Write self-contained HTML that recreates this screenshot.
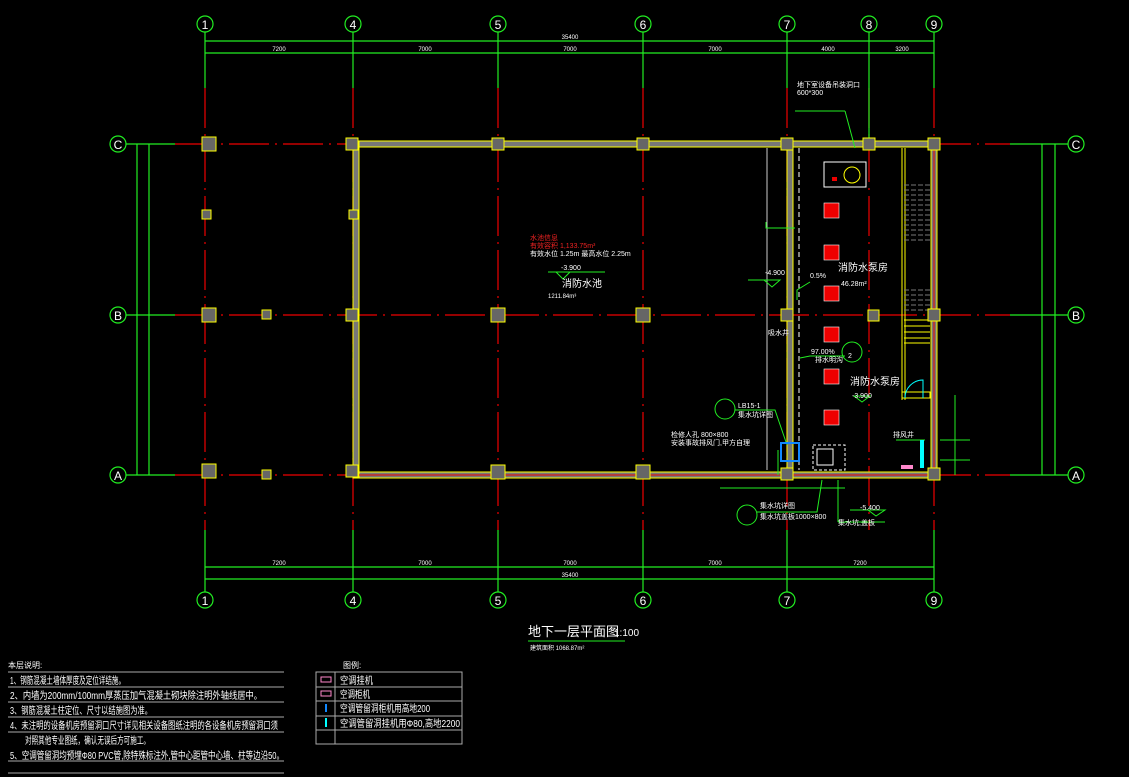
<!DOCTYPE html>
<html><head><meta charset="utf-8"><style>
html,body{margin:0;padding:0;background:#000;}
svg{display:block}
text{font-family:"Liberation Sans","Noto Sans CJK SC",sans-serif;fill:#fff}
</style></head><body>
<svg width="1129" height="777" viewBox="0 0 1129 777" xmlns="http://www.w3.org/2000/svg">
<rect width="1129" height="777" fill="#000"/>
<g stroke="#e00" stroke-width="1.2" stroke-dasharray="40,6,2,6">
<line x1="205" y1="88" x2="205" y2="530"/><line x1="353" y1="88" x2="353" y2="530"/>
<line x1="498" y1="88" x2="498" y2="530"/><line x1="643" y1="88" x2="643" y2="530"/>
<line x1="787" y1="88" x2="787" y2="530"/><line x1="869" y1="88" x2="869" y2="530"/>
<line x1="934" y1="88" x2="934" y2="530"/>
<line x1="175" y1="144" x2="1010" y2="144"/><line x1="175" y1="315" x2="1010" y2="315"/>
<line x1="175" y1="475" x2="1010" y2="475"/>
</g>
<g stroke="#2e2" stroke-width="1.2" fill="none">
<line x1="205" y1="32" x2="205" y2="88"/><line x1="353" y1="32" x2="353" y2="88"/>
<line x1="498" y1="32" x2="498" y2="88"/><line x1="643" y1="32" x2="643" y2="88"/>
<line x1="787" y1="32" x2="787" y2="88"/><line x1="869" y1="32" x2="869" y2="140"/>
<line x1="934" y1="32" x2="934" y2="88"/>
<line x1="205" y1="530" x2="205" y2="592"/><line x1="353" y1="530" x2="353" y2="592"/>
<line x1="498" y1="530" x2="498" y2="592"/><line x1="643" y1="530" x2="643" y2="592"/>
<line x1="787" y1="530" x2="787" y2="592"/><line x1="934" y1="530" x2="934" y2="592"/>
<line x1="205" y1="41" x2="934" y2="41"/><line x1="205" y1="53" x2="934" y2="53"/>
<line x1="205" y1="567" x2="934" y2="567"/><line x1="205" y1="579" x2="934" y2="579"/>
<line x1="126" y1="144" x2="175" y2="144"/><line x1="126" y1="315" x2="175" y2="315"/><line x1="126" y1="475" x2="175" y2="475"/>
<line x1="137" y1="144" x2="137" y2="475"/><line x1="149" y1="144" x2="149" y2="475"/>
<line x1="1010" y1="144" x2="1068" y2="144"/><line x1="1010" y1="315" x2="1068" y2="315"/><line x1="1010" y1="475" x2="1068" y2="475"/>
<line x1="1042" y1="144" x2="1042" y2="475"/><line x1="1055" y1="144" x2="1055" y2="475"/>
<circle cx="205" cy="24" r="8"/><circle cx="353" cy="24" r="8"/><circle cx="498" cy="24" r="8"/>
<circle cx="643" cy="24" r="8"/><circle cx="787" cy="24" r="8"/><circle cx="869" cy="24" r="8"/><circle cx="934" cy="24" r="8"/>
<circle cx="205" cy="600" r="8"/><circle cx="353" cy="600" r="8"/><circle cx="498" cy="600" r="8"/>
<circle cx="643" cy="600" r="8"/><circle cx="787" cy="600" r="8"/><circle cx="934" cy="600" r="8"/>
<circle cx="118" cy="144" r="8"/><circle cx="118" cy="315" r="8"/><circle cx="118" cy="475" r="8"/>
<circle cx="1076" cy="144" r="8"/><circle cx="1076" cy="315" r="8"/><circle cx="1076" cy="475" r="8"/>
</g>
<g font-size="12" text-anchor="middle">
<text x="205" y="29">1</text><text x="353" y="29">4</text><text x="498" y="29">5</text><text x="643" y="29">6</text><text x="787" y="29">7</text><text x="869" y="29">8</text><text x="934" y="29">9</text>
<text x="205" y="605">1</text><text x="353" y="605">4</text><text x="498" y="605">5</text><text x="643" y="605">6</text><text x="787" y="605">7</text><text x="934" y="605">9</text>
<text x="118" y="149">C</text><text x="118" y="320">B</text><text x="118" y="480">A</text>
<text x="1076" y="149">C</text><text x="1076" y="320">B</text><text x="1076" y="480">A</text>
</g>
<g font-size="6" text-anchor="middle">
<text x="570" y="39">35400</text><text x="279" y="51">7200</text><text x="425" y="51">7000</text><text x="570" y="51">7000</text><text x="715" y="51">7000</text><text x="828" y="51">4000</text><text x="902" y="51">3200</text>
<text x="279" y="565">7200</text><text x="425" y="565">7000</text><text x="570" y="565">7000</text><text x="715" y="565">7000</text><text x="860" y="565">7200</text><text x="570" y="577">35400</text>
</g>
<g fill="#777" stroke="#ff0" stroke-width="1">
<rect x="353" y="141" width="581" height="6"/>
<rect x="353" y="472" width="581" height="6"/>
<rect x="353" y="141" width="6" height="337"/>
<rect x="931" y="141" width="6" height="337"/>
<rect x="787" y="141" width="6" height="337"/>
</g>
<line x1="359" y1="475" x2="931" y2="475" stroke="#e00" stroke-width="1"/>
<line x1="934" y1="147" x2="934" y2="472" stroke="#e00" stroke-width="1"/>
<line x1="799" y1="148" x2="799" y2="470" stroke="#fff" stroke-width="1" stroke-dasharray="5,3"/>
<line x1="767" y1="148" x2="767" y2="470" stroke="#fff" stroke-width="0.8"/>
<line x1="902" y1="148" x2="902" y2="400" stroke="#ff0" stroke-width="1"/>
<line x1="905" y1="148" x2="905" y2="400" stroke="#ff0" stroke-width="1"/>
<g stroke="#777" stroke-width="1" stroke-dasharray="5,2">
<line x1="904" y1="185" x2="930" y2="185"/><line x1="904" y1="190" x2="930" y2="190"/><line x1="904" y1="195" x2="930" y2="195"/>
<line x1="904" y1="200" x2="930" y2="200"/><line x1="904" y1="205" x2="930" y2="205"/><line x1="904" y1="210" x2="930" y2="210"/>
<line x1="904" y1="215" x2="930" y2="215"/><line x1="904" y1="220" x2="930" y2="220"/><line x1="904" y1="225" x2="930" y2="225"/>
<line x1="904" y1="230" x2="930" y2="230"/><line x1="904" y1="235" x2="930" y2="235"/><line x1="904" y1="240" x2="930" y2="240"/>
<line x1="904" y1="290" x2="930" y2="290"/><line x1="904" y1="295" x2="930" y2="295"/><line x1="904" y1="300" x2="930" y2="300"/><line x1="904" y1="305" x2="930" y2="305"/><line x1="904" y1="310" x2="930" y2="310"/>
</g>
<g stroke="#ff0" stroke-width="1">
<line x1="904" y1="320" x2="930" y2="320"/><line x1="904" y1="326" x2="930" y2="326"/><line x1="904" y1="332" x2="930" y2="332"/><line x1="904" y1="338" x2="930" y2="338"/><line x1="904" y1="343" x2="930" y2="343"/>
<rect x="902" y="392" width="28" height="6" fill="none"/>
</g>
<g fill="#666" stroke="#ff0" stroke-width="1">
<rect x="202" y="137" width="14" height="14"/><rect x="346" y="138" width="12" height="12"/><rect x="492" y="138" width="12" height="12"/>
<rect x="637" y="138" width="12" height="12"/><rect x="781" y="138" width="12" height="12"/><rect x="863" y="138" width="12" height="12"/><rect x="928" y="138" width="12" height="12"/>
<rect x="202" y="308" width="14" height="14"/><rect x="346" y="309" width="12" height="12"/><rect x="491" y="308" width="14" height="14"/>
<rect x="636" y="308" width="14" height="14"/><rect x="781" y="309" width="12" height="12"/><rect x="868" y="310" width="11" height="11"/><rect x="928" y="309" width="12" height="12"/>
<rect x="202" y="464" width="14" height="14"/><rect x="346" y="465" width="12" height="12"/><rect x="491" y="465" width="14" height="14"/>
<rect x="636" y="465" width="14" height="14"/><rect x="781" y="468" width="12" height="12"/><rect x="928" y="468" width="12" height="12"/>
<rect x="202" y="210" width="9" height="9"/><rect x="349" y="210" width="9" height="9"/><rect x="262" y="310" width="9" height="9"/><rect x="262" y="470" width="9" height="9"/>
</g>
<g fill="#e00" stroke="#fff" stroke-width="0.6">
<rect x="824" y="203" width="15" height="15"/><rect x="824" y="245" width="15" height="15"/><rect x="824" y="286" width="15" height="15"/>
<rect x="824" y="327" width="15" height="15"/><rect x="824" y="369" width="15" height="15"/><rect x="824" y="410" width="15" height="15"/>
</g>
<rect x="824" y="162" width="42" height="25" fill="none" stroke="#fff" stroke-width="1"/>
<circle cx="852" cy="175" r="8" fill="none" stroke="#ff0"/>
<rect x="832" y="177" width="5" height="4" fill="#e00"/>
<g stroke="#2e2" stroke-width="1" fill="none">
<circle cx="852" cy="352" r="10"/><circle cx="725" cy="409" r="10"/><circle cx="747" cy="515" r="10"/>
<polyline points="766,222 766,228 795,228"/><polyline points="748,280 780,280 772,287 764,280"/>
<polyline points="797,300 797,290 810,282"/><polyline points="800,358 810,356 845,356"/>
<polyline points="735,410 775,410 787,445"/><polyline points="757,512 817,512 822,480"/>
<line x1="838" y1="480" x2="838" y2="522"/><line x1="838" y1="522" x2="885" y2="522"/>
<polyline points="853,396 870,396 862,402 854,396"/><polyline points="850,510 885,510 876,516 868,510"/>
<polyline points="548,272 605,272 556,272 563,279 570,272"/>
<line x1="720" y1="488" x2="845" y2="488"/><line x1="955" y1="395" x2="955" y2="475"/><line x1="940" y1="440" x2="970" y2="440"/><line x1="940" y1="460" x2="970" y2="460"/>
<line x1="778" y1="450" x2="778" y2="475"/><line x1="896" y1="440" x2="925" y2="440"/>
<line x1="795" y1="111" x2="845" y2="111"/><line x1="845" y1="111" x2="855" y2="148"/>
</g>
<rect x="781" y="443" width="18" height="18" fill="none" stroke="#18f" stroke-width="2"/>
<rect x="813" y="445" width="32" height="25" fill="none" stroke="#fff" stroke-dasharray="3,2"/>
<rect x="817" y="449" width="16" height="16" fill="none" stroke="#fff"/>
<rect x="920" y="440" width="4" height="28" fill="#0ff"/>
<rect x="901" y="465" width="12" height="4" fill="#f8c"/>
<path d="M905 398 A18 18 0 0 1 923 380 L923 398" fill="none" stroke="#0ff"/>
<g font-size="7">
<text x="530" y="240" style="fill:#e22">水池信息</text>
<text x="530" y="248" style="fill:#e22">有效容积    1,133.75m³</text>
<text x="530" y="256">有效水位   1.25m 最高水位    2.25m</text>
<text x="561" y="270">-3.900</text>
<text x="765" y="275">-4.900</text><text x="810" y="278">0.5%</text>
<text x="841" y="286">46.28m²</text><text x="811" y="354">97.00%</text><text x="815" y="362">排水明沟</text>
<text x="797" y="87">地下室设备吊装洞口</text><text x="797" y="95">600*300</text>
<text x="738" y="408">LB15-1</text><text x="738" y="417">集水坑详图</text>
<text x="671" y="437">检修人孔 800×800</text><text x="671" y="445">安装事故排风门,甲方自理</text>
<text x="760" y="508">集水坑详图</text><text x="760" y="519">集水坑盖板1000×800</text><text x="838" y="525">集水坑,盖板</text>
<text x="852" y="398">-3.900</text><text x="860" y="510">-5.400</text>
<text x="893" y="437">排风井</text><text x="768" y="335">吸水井</text>
<text x="848" y="358">2</text>
</g>
<g font-size="10">
<text x="562" y="287">消防水池</text><text x="548" y="298" font-size="6">1211.84m³</text>
<text x="838" y="271">消防水泵房</text><text x="850" y="385">消防水泵房</text>
</g>
<text x="528" y="636" font-size="13">地下一层平面图</text><text x="614" y="636" font-size="10">1:100</text>
<line x1="528" y1="641" x2="625" y2="641" stroke="#2e2"/>
<text x="530" y="650" font-size="6">建筑面积      1068.87m²</text>
<g font-size="10" lengthAdjust="spacingAndGlyphs">
<text x="8" y="668" font-size="8">本层说明:</text>
<text x="10" y="684" textLength="115" lengthAdjust="spacingAndGlyphs">1、钢筋混凝土墙体厚度及定位详结施。</text>
<text x="10" y="699" textLength="252" lengthAdjust="spacingAndGlyphs">2、内墙为200mm/100mm厚蒸压加气混凝土砌块除注明外轴线居中。</text>
<text x="10" y="714" textLength="142" lengthAdjust="spacingAndGlyphs">3、钢筋混凝土柱定位、尺寸以结施图为准。</text>
<text x="10" y="729" textLength="268" lengthAdjust="spacingAndGlyphs">4、未注明的设备机房预留洞口尺寸详见相关设备图纸注明的各设备机房预留洞口须</text>
<text x="25" y="744" textLength="125" lengthAdjust="spacingAndGlyphs">对照其他专业图纸，确认无误后方可施工。</text>
<text x="10" y="759" textLength="274" lengthAdjust="spacingAndGlyphs">5、空调管留洞均预埋Φ80 PVC管,除特殊标注外,管中心距管中心墙、柱等边沿50。</text>
</g>
<g stroke="#aaa" stroke-width="1"><line x1="8" y1="672" x2="284" y2="672"/><line x1="8" y1="687" x2="284" y2="687"/><line x1="8" y1="702" x2="284" y2="702"/><line x1="8" y1="717" x2="284" y2="717"/><line x1="8" y1="732" x2="284" y2="732"/><line x1="8" y1="761" x2="284" y2="761"/><line x1="8" y1="773" x2="284" y2="773"/></g>
<text x="343" y="668" font-size="8">图例:</text>
<g stroke="#aaa" fill="none"><rect x="316" y="672" width="146" height="72"/><line x1="335" y1="672" x2="335" y2="744"/>
<line x1="316" y1="687" x2="462" y2="687"/><line x1="316" y1="701" x2="462" y2="701"/><line x1="316" y1="716" x2="462" y2="716"/><line x1="316" y1="730" x2="462" y2="730"/></g>
<rect x="321" y="677" width="10" height="5" fill="none" stroke="#f8c"/><rect x="321" y="691" width="10" height="5" fill="none" stroke="#f8c"/>
<rect x="325" y="704" width="2" height="8" fill="#18f"/><rect x="325" y="718" width="2" height="9" fill="#0ff"/>
<g font-size="10"><text x="340" y="684" textLength="33" lengthAdjust="spacingAndGlyphs">空调挂机</text><text x="340" y="698" textLength="30" lengthAdjust="spacingAndGlyphs">空调柜机</text><text x="340" y="712" textLength="90" lengthAdjust="spacingAndGlyphs">空调管留洞柜机用高地200</text><text x="340" y="727" textLength="120" lengthAdjust="spacingAndGlyphs">空调管留洞挂机用Φ80,高地2200</text></g>
</svg>
</body></html>
